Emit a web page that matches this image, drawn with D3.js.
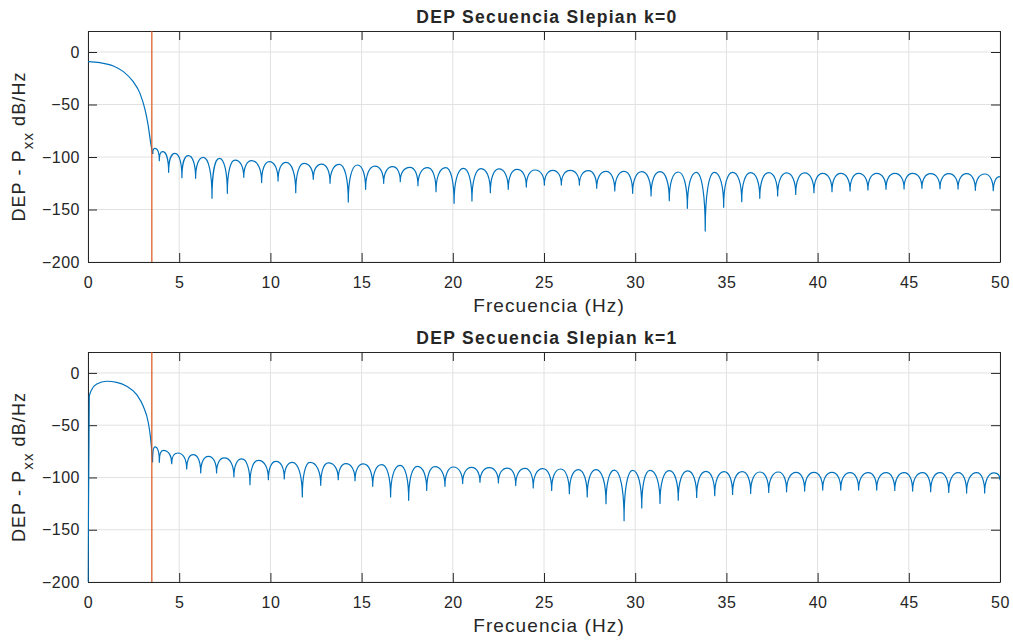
<!DOCTYPE html>
<html>
<head>
<meta charset="utf-8">
<script src="https://cdn.jsdelivr.net/npm/d3@7"></script>
<style>
  html, body { margin: 0; padding: 0; background: #ffffff; }
  svg { display: block; }
  text { font-family: "Liberation Sans", Arial, sans-serif; fill: #262626; }
</style>
</head>
<body>
<div id="chart"></div>
<script>
// ---------------- data ----------------
const titles = ["DEP Secuencia Slepian k=0", "DEP Secuencia Slepian k=1"];
const xLabel = "Frecuencia (Hz)";
const xTicks = [0, 5, 10, 15, 20, 25, 30, 35, 40, 45, 50];
const yTicks = [-200, -150, -100, -50, 0];
const xDomain = [0, 50];
const yDomain = [-200, 20];
const bandwidthHz = 3.5; // red vertical marker

// k=0 : main lobe [Hz, dB]
const mainLobe0 = [[0,-9.2],[0.66,-10.2],[1.39,-13.3],[1.94,-18.7],[2.48,-28.3],[2.85,-39.4],
  [3.13,-55.2],[3.31,-71.1],[3.44,-87.0],[3.55,-97.1]];
// k=0 : side lobes, alternating null / peak [Hz, dB]
const sideLobes0 = [[3.55,-97.1],[3.67,-91.7],[3.91,-103.5],[4.09,-94.9],[4.42,-114.6],[4.77,-96.5],
  [5.15,-119.7],[5.50,-98.7],[5.90,-120.3],[6.32,-100.3],[6.80,-139.4],[7.20,-101.3],[7.64,-134.6],
  [8.06,-102.9],[8.54,-119.4],[8.97,-103.5],[9.52,-124.4],[9.94,-104.4],[10.42,-122.9],[10.86,-105.1],
  [11.39,-134.0],[11.84,-106.0],[12.35,-121.3],[12.81,-106.7],[13.27,-125.1],[13.78,-107.0],
  [14.27,-142.9],[14.77,-107.6],[15.22,-130.8],[15.73,-108.6],[16.21,-125.1],[16.70,-109.2],
  [17.12,-123.5],[17.65,-109.8],[18.09,-127.3],[18.62,-110.2],[19.08,-133.0],[19.61,-110.2],
  [20.07,-144.1],[20.58,-110.8],[21.05,-141.9],[21.55,-111.1],[22.06,-134.0],[22.53,-111.4],
  [23.04,-130.8],[23.52,-111.7],[24.03,-128.6],[24.51,-112.4],[25.02,-126.7],[25.48,-112.7],
  [25.95,-126.7],[26.44,-112.7],[26.94,-126.7],[27.43,-113.0],[27.89,-129.8],[28.40,-113.7],
  [28.88,-132.4],[29.39,-113.7],[29.86,-134.6],[30.37,-114.0],[30.87,-137.1],[31.36,-114.0],
  [31.87,-141.6],[32.36,-114.3],[32.86,-148.9],[33.35,-114.6],[33.84,-170.5],[34.34,-114.6],
  [34.85,-147.9],[35.34,-114.6],[35.84,-142.5],[36.33,-114.9],[36.83,-139.4],[37.32,-114.9],
  [37.81,-137.1],[38.30,-115.2],[38.80,-135.6],[39.29,-115.2],[39.80,-134.0],[40.28,-115.6],
  [40.79,-133.0],[41.27,-115.6],[41.78,-132.4],[42.25,-115.6],[42.76,-131.4],[43.24,-115.6],
  [43.75,-130.8],[44.23,-115.6],[44.74,-130.5],[45.21,-115.6],[45.72,-129.8],[46.20,-115.9],
  [46.71,-130.2],[47.19,-115.9],[47.70,-130.5],[48.17,-115.9],[48.65,-131.7],[49.16,-116.2],
  [49.63,-132.1],[50.0,-118.7]];

// k=1 : main lobe [Hz, dB]
const mainLobe1 = [[0,-200],[0.07,-22.4],[0.20,-16.0],[0.48,-10.6],[1.02,-8.0],[1.57,-9.0],
  [2.12,-12.8],[2.67,-20.8],[3.03,-31.9],[3.31,-47.9],[3.44,-63.8],[3.49,-73.5],[3.54,-85.5]];
// k=1 : side lobes, alternating null / peak [Hz, dB]
const sideLobes1 = [[3.54,-85.5],[3.67,-70.8],[3.91,-85.5],[4.13,-74.1],[4.59,-86.8],[4.92,-76.6],
  [5.41,-91.9],[5.77,-78.2],[6.18,-95.7],[6.60,-79.8],[7.05,-95.7],[7.47,-81.3],[8.00,-99.5],
  [8.43,-82.3],[8.88,-106.9],[9.34,-83.6],[9.89,-102.1],[10.31,-84.6],[10.76,-101.4],[11.20,-85.5],
  [11.75,-118.7],[12.17,-85.5],[12.76,-107.5],[13.18,-86.1],[13.72,-102.1],[14.14,-86.8],
  [14.64,-103.1],[15.09,-87.1],[15.61,-108.5],[16.10,-87.8],[16.59,-118.7],[17.11,-88.4],
  [17.58,-121.9],[18.06,-89.4],[18.57,-112.4],[19.02,-89.7],[19.57,-108.5],[20.03,-90.0],
  [20.54,-105.9],[21.03,-90.3],[21.49,-104.7],[22.00,-90.6],[22.50,-105.3],[22.99,-91.0],
  [23.45,-107.8],[23.96,-91.3],[24.41,-110.1],[24.93,-91.6],[25.42,-112.4],[25.91,-91.9],
  [26.39,-115.5],[26.88,-92.5],[27.37,-118.7],[27.85,-92.5],[28.40,-125.1],[28.86,-92.9],
  [29.39,-141.3],[29.86,-93.2],[30.36,-129.2],[30.81,-93.2],[31.36,-124.8],[31.87,-93.5],
  [32.36,-121.7],[32.88,-93.8],[33.37,-119.1],[33.88,-94.1],[34.36,-117.5],[34.87,-94.4],
  [35.34,-116.2],[35.87,-94.4],[36.33,-115.3],[36.84,-94.8],[37.32,-114.3],[37.85,-94.8],
  [38.30,-113.7],[38.82,-95.1],[39.29,-113.0],[39.80,-95.1],[40.28,-112.1],[40.79,-95.1],
  [41.27,-112.1],[41.78,-95.4],[42.25,-112.1],[42.78,-95.4],[43.24,-112.1],[43.75,-95.4],
  [44.23,-112.4],[44.75,-95.4],[45.21,-113.0],[45.76,-95.4],[46.20,-113.7],[46.71,-95.4],
  [47.19,-114.3],[47.71,-95.4],[48.17,-114.9],[48.72,-95.4],[49.16,-114.9],[49.67,-95.7],
  [50.0,-102.7]];

// ---------------- drawing ----------------
const W = 1013, H = 641;
const left = 88, right = 1000;
const panels = [
  { top: 31,  bottom: 262, title: titles[0], main: mainLobe0, lobes: sideLobes0 },
  { top: 352, bottom: 582, title: titles[1], main: mainLobe1, lobes: sideLobes1 }
];
const AX = "#262626", GRID = "#e2e2e2", BLUE = "#0072BD", RED = "#D95319";

// curve for side lobes: pointed at nulls, rounded at peaks
function lobeCurve(context) {
  const K1 = 0.62, K2 = 0.4;
  let pts;
  return {
    areaStart() {}, areaEnd() {},
    lineStart() { pts = []; },
    point(x, y) { pts.push([+x, +y]); },
    lineEnd() {
      if (!pts.length) return;
      context.moveTo(pts[0][0], pts[0][1]);
      for (let i = 1; i < pts.length; i++) {
        const [x0, y0] = pts[i - 1], [x1, y1] = pts[i];
        if (y0 > y1) { // null -> peak
          context.bezierCurveTo(x0, y0 + K1 * (y1 - y0), x0 + K2 * (x1 - x0), y1, x1, y1);
        } else {       // peak -> null
          context.bezierCurveTo(x0 + (1 - K2) * (x1 - x0), y0, x1, y1 + K1 * (y0 - y1), x1, y1);
        }
      }
    }
  };
}

const svg = d3.select("#chart").append("svg").attr("width", W).attr("height", H);

panels.forEach((p, i) => {
  const x = d3.scaleLinear().domain(xDomain).range([left, right]);
  const y = d3.scaleLinear().domain(yDomain).range([p.bottom, p.top]);
  const g = svg.append("g");

  // grid
  g.append("g").selectAll("line").data(xTicks).join("line")
    .attr("x1", d => x(d)).attr("x2", d => x(d))
    .attr("y1", p.top).attr("y2", p.bottom)
    .attr("stroke", GRID).attr("stroke-width", 1);
  g.append("g").selectAll("line").data(yTicks).join("line")
    .attr("x1", left).attr("x2", right)
    .attr("y1", d => y(d)).attr("y2", d => y(d))
    .attr("stroke", GRID).attr("stroke-width", 1);

  // axes (ticks inside on all four sides)
  const styleAxis = sel => {
    sel.select(".domain").attr("stroke", AX).attr("stroke-width", 1);
    sel.selectAll(".tick line").attr("stroke", AX).attr("stroke-width", 1);
    sel.selectAll("text").attr("fill", AX).style("font-size", "16px")
      .style("font-family", '"Liberation Sans", Arial, sans-serif').style("letter-spacing", "0.5px");
  };
  g.append("g").attr("transform", `translate(0,${p.bottom})`)
    .call(d3.axisBottom(x).tickValues(xTicks).tickSize(-9).tickSizeOuter(0).tickPadding(15).tickFormat(d3.format("d")))
    .call(styleAxis);
  g.append("g").attr("transform", `translate(0,${p.top})`)
    .call(d3.axisTop(x).tickValues(xTicks).tickSize(-9).tickSizeOuter(0).tickFormat(""))
    .call(styleAxis);
  g.append("g").attr("transform", `translate(${left},0)`)
    .call(d3.axisLeft(y).tickValues(yTicks).tickSize(-9).tickSizeOuter(0).tickPadding(8).tickFormat(d3.format("d")))
    .call(styleAxis);
  g.append("g").attr("transform", `translate(${right},0)`)
    .call(d3.axisRight(y).tickValues(yTicks).tickSize(-9).tickSizeOuter(0).tickFormat(""))
    .call(styleAxis);
  g.selectAll(".tick text").filter(function () { return this.textContent === ""; }).remove();

  // clip (data drawn above the axes, as in the reference)
  const cid = "clip" + i;
  svg.append("clipPath").attr("id", cid).append("rect")
    .attr("x", left - 0.5).attr("y", p.top - 0.5)
    .attr("width", right - left + 1).attr("height", p.bottom - p.top + 1);

  const plot = g.append("g").attr("clip-path", `url(#${cid})`);
  const mainLine = d3.line().x(d => x(d[0])).y(d => y(d[1])).curve(d3.curveMonotoneX);
  const lobeLine = d3.line().x(d => x(d[0])).y(d => y(d[1])).curve(lobeCurve);
  plot.append("path").attr("d", mainLine(p.main))
    .attr("fill", "none").attr("stroke", BLUE).attr("stroke-width", 1.2);
  plot.append("path").attr("d", lobeLine(p.lobes))
    .attr("fill", "none").attr("stroke", BLUE).attr("stroke-width", 1.2).attr("stroke-linejoin", "round");
  plot.append("line")
    .attr("x1", x(bandwidthHz)).attr("x2", x(bandwidthHz))
    .attr("y1", y(yDomain[0])).attr("y2", y(yDomain[1]))
    .attr("stroke", RED).attr("stroke-width", 1.2);

  // title
  g.append("text").attr("x", 547).attr("y", p.top - 8.5)
    .attr("text-anchor", "middle").style("font-size", "17.5px").style("font-weight", "bold")
    .style("letter-spacing", "1.3px").attr("fill", "#000").text(p.title);

  // x label
  g.append("text").attr("x", 549).attr("y", p.bottom + 50)
    .attr("text-anchor", "middle").style("font-size", "19px").style("letter-spacing", "1.1px")
    .text(xLabel);

  // y label
  const yl = g.append("text")
    .attr("transform", `translate(24.5,${(p.top + p.bottom) / 2}) rotate(-90)`)
    .attr("text-anchor", "middle").style("font-size", "18px").style("letter-spacing", "1.1px");
  yl.append("tspan").text("DEP - P");
  yl.append("tspan").attr("dy", 8).style("font-size", "15px").text("xx");
  yl.append("tspan").attr("dy", -8).text(" dB/Hz");
});
</script>
</body>
</html>
